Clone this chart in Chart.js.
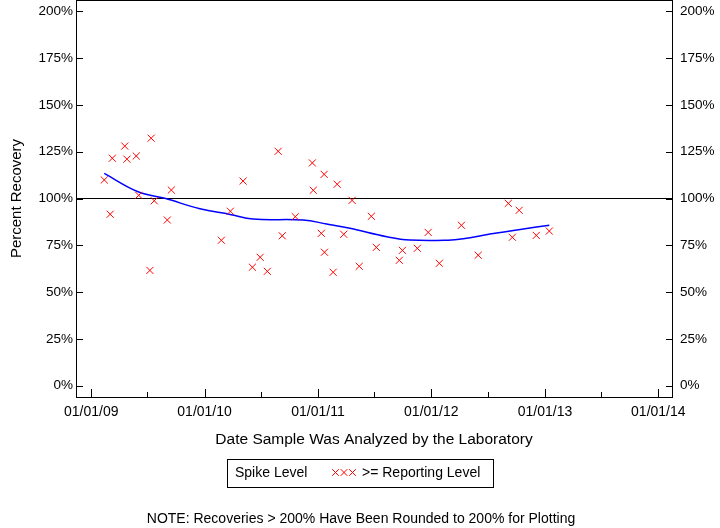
<!DOCTYPE html>
<html><head><meta charset="utf-8">
<script src="https://cdn.jsdelivr.net/npm/chart.js@4.4.0/dist/chart.umd.min.js"></script>
<style>html,body{margin:0;padding:0;background:#fff}canvas{display:block}</style>
</head><body>
<canvas id="c" width="720" height="528"></canvas>
<script>
// ---- data ----
const sampleDates = [
  '2009-02-12','2009-03-03','2009-03-10','2009-04-19','2009-04-26','2009-05-26','2009-06-03',
  '2009-07-09','2009-07-13','2009-07-23','2009-09-03','2009-09-16',
  '2010-02-24','2010-03-25','2010-05-05','2010-06-04','2010-06-29','2010-07-22','2010-08-26',
  '2010-09-08','2010-10-20','2010-12-14','2010-12-17',
  '2011-01-12','2011-01-21','2011-01-22','2011-02-19','2011-03-04','2011-03-25','2011-04-21',
  '2011-05-14','2011-06-22','2011-07-08','2011-09-20','2011-09-30','2011-11-17','2011-12-22',
  '2012-01-27','2012-04-07','2012-05-31','2012-09-05','2012-09-18','2012-10-10','2012-12-04',
  '2013-01-15'
];
const recoveryValues = [
  109.9, 91.6, 121.5, 128.0, 121.0, 122.7, 101.7,
  61.6, 132.2, 98.8, 88.5, 104.5,
  77.7, 93.2, 109.3, 63.3, 68.6, 61.1, 125.2,
  80.1, 90.3, 119.0, 104.4,
  81.4, 112.9, 71.3, 60.6, 107.6, 80.9, 99.0,
  63.8, 90.5, 73.9, 67.0, 72.3, 73.4, 81.9,
  65.4, 85.7, 69.7, 97.4, 79.3, 93.7, 80.3,
  82.6
];
const smoothDates = [
  '2009-02-12','2009-06-01','2009-08-26','2009-12-17','2010-03-24','2010-06-06',
  '2010-11-14','2011-01-29','2011-04-14','2011-08-11','2011-10-24','2012-02-24','2012-04-13',
  '2012-07-08','2012-10-13','2013-01-15'
];
const smoothValues = [
  113.4, 103.6, 100.1, 94.5, 91.5, 89.0,
  88.5, 86.4, 84.1, 79.6, 77.8, 77.7, 78.5,
  81.0, 83.5, 85.7
];
const xTickDates = ['2009-01-01','2009-07-01','2010-01-01','2010-07-01','2011-01-01','2011-07-01',
  '2012-01-01','2012-07-01','2013-01-01','2013-07-01','2014-01-01'];
const xTickLabels = ['01/01/09','','01/01/10','','01/01/11','','01/01/12','','01/01/13','','01/01/14'];
const yTickValues = [0,25,50,75,100,125,150,175,200];
const yTickLabels = ['0%','25%','50%','75%','100%','125%','150%','175%','200%'];
const referenceValue = 100;
const xMinDate = '2008-11-13', xMaxDate = '2014-02-14';
const yMin = -6, yMax = 206;

// ---- chart ----
const FAM = "'Liberation Sans', Arial, sans-serif";
const xMin = Date.parse(xMinDate), xMax = Date.parse(xMaxDate);

const frame = {
  id: 'frame',
  afterDraw(chart) {
    const {ctx, chartArea: a, scales} = chart;
    ctx.save();
    ctx.strokeStyle = '#000';
    ctx.lineWidth = 1;
    ctx.strokeRect(a.left + 0.5, a.top + 0.5, a.right - a.left, a.bottom - a.top);
    ctx.beginPath();
    scales.x.ticks.forEach((t, i) => {
      const px = Math.round(scales.x.getPixelForValue(t.value)) + 0.5;
      const len = xTickLabels[i] ? 8 : 5;
      ctx.moveTo(px, a.bottom);
      ctx.lineTo(px, a.bottom - len);
    });
    scales.y.ticks.forEach(t => {
      const py = Math.round(scales.y.getPixelForValue(t.value)) + 0.5;
      ctx.moveTo(a.left, py); ctx.lineTo(a.left + 7, py);
      ctx.moveTo(a.right + 1, py); ctx.lineTo(a.right - 6, py);
    });
    ctx.stroke();

    // legend box
    ctx.strokeRect(227.5, 459.5, 266, 28);
    ctx.fillStyle = '#000';
    ctx.font = '14px ' + FAM;
    ctx.textBaseline = 'middle';
    ctx.textAlign = 'left';
    ctx.fillText('Spike Level', 235, 473);
    ctx.fillText('>= Reporting Level', 362, 473);
    ctx.strokeStyle = '#ff0000';
    ctx.beginPath();
    [335.5, 344, 352.5].forEach(cx => {
      const cy = 472.5, h = 3.3;
      ctx.moveTo(cx - h, cy - h); ctx.lineTo(cx + h, cy + h);
      ctx.moveTo(cx - h, cy + h); ctx.lineTo(cx + h, cy - h);
    });
    ctx.stroke();

    // note
    ctx.fillStyle = '#000';
    ctx.textAlign = 'center';
    ctx.font = '14px ' + FAM;
    ctx.fillText('NOTE: Recoveries > 200% Have Been Rounded to 200% for Plotting', 361, 519);
    ctx.restore();
  }
};

const yTickOpts = (pad) => ({
  autoSkip: false, padding: pad, color: '#000',
  font: {family: FAM, size: 13.5},
  callback: (v, i) => yTickLabels[i]
});
const noPadV = s => { s.paddingTop = 0; s.paddingBottom = 0; };

new Chart(document.getElementById('c'), {
  type: 'scatter',
  data: {
    datasets: [
      {
        label: '>= Reporting Level',
        data: sampleDates.map((d, i) => ({x: Date.parse(d), y: recoveryValues[i]})),
        showLine: false,
        pointStyle: 'crossRot',
        pointRadius: 5,
        pointHoverRadius: 5,
        borderColor: '#ff0000',
        backgroundColor: '#ff0000',
        pointBorderWidth: 1,
        order: 1
      },
      {
        label: 'smooth',
        data: smoothDates.map((d, i) => ({x: Date.parse(d), y: smoothValues[i]})),
        showLine: true,
        borderColor: '#0000ff',
        borderWidth: 1.5,
        pointRadius: 0,
        tension: 0.4,
        order: 2
      },
      {
        label: 'reference',
        data: [{x: xMin, y: referenceValue}, {x: xMax, y: referenceValue}],
        showLine: true,
        borderColor: '#000000',
        borderWidth: 1,
        pointRadius: 0,
        order: 3
      }
    ]
  },
  options: {
    responsive: false,
    animation: false,
    devicePixelRatio: 1,
    events: [],
    layout: {padding: 0, autoPadding: false},
    plugins: {legend: {display: false}, tooltip: {enabled: false}},
    scales: {
      x: {
        type: 'linear', position: 'bottom', min: xMin, max: xMax,
        grid: {display: false, drawTicks: false}, border: {display: false},
        afterBuildTicks(s) { s.ticks = xTickDates.map(d => ({value: Date.parse(d)})); },
        afterFit(s) { s.height = 131; s.paddingLeft = 0; s.paddingRight = 0; },
        ticks: {autoSkip: false, maxRotation: 0, minRotation: 0, padding: 7, color: '#000',
          font: {family: FAM, size: 14}, callback: (v, i) => xTickLabels[i]},
        title: {display: true, text: 'Date Sample Was Analyzed by the Laboratory', color: '#000',
          font: {family: FAM, size: 15.5}, padding: {top: 0, bottom: 79}}
      },
      y: {
        type: 'linear', position: 'left', min: yMin, max: yMax,
        grid: {display: false, drawTicks: false}, border: {display: false},
        afterBuildTicks(s) { s.ticks = yTickValues.map(v => ({value: v})); },
        afterFit(s) { s.width = 76; noPadV(s); },
        ticks: yTickOpts(3),
        title: {display: true, text: 'Percent Recovery', color: '#000',
          font: {family: FAM, size: 15}, padding: {top: 8, bottom: 0}}
      },
      y2: {
        type: 'linear', position: 'right', min: yMin, max: yMax,
        grid: {display: false, drawTicks: false}, border: {display: false},
        afterBuildTicks(s) { s.ticks = yTickValues.map(v => ({value: v})); },
        afterFit(s) { s.width = 48; noPadV(s); },
        ticks: yTickOpts(8)
      }
    }
  },
  plugins: [frame]
});
</script>
</body></html>
